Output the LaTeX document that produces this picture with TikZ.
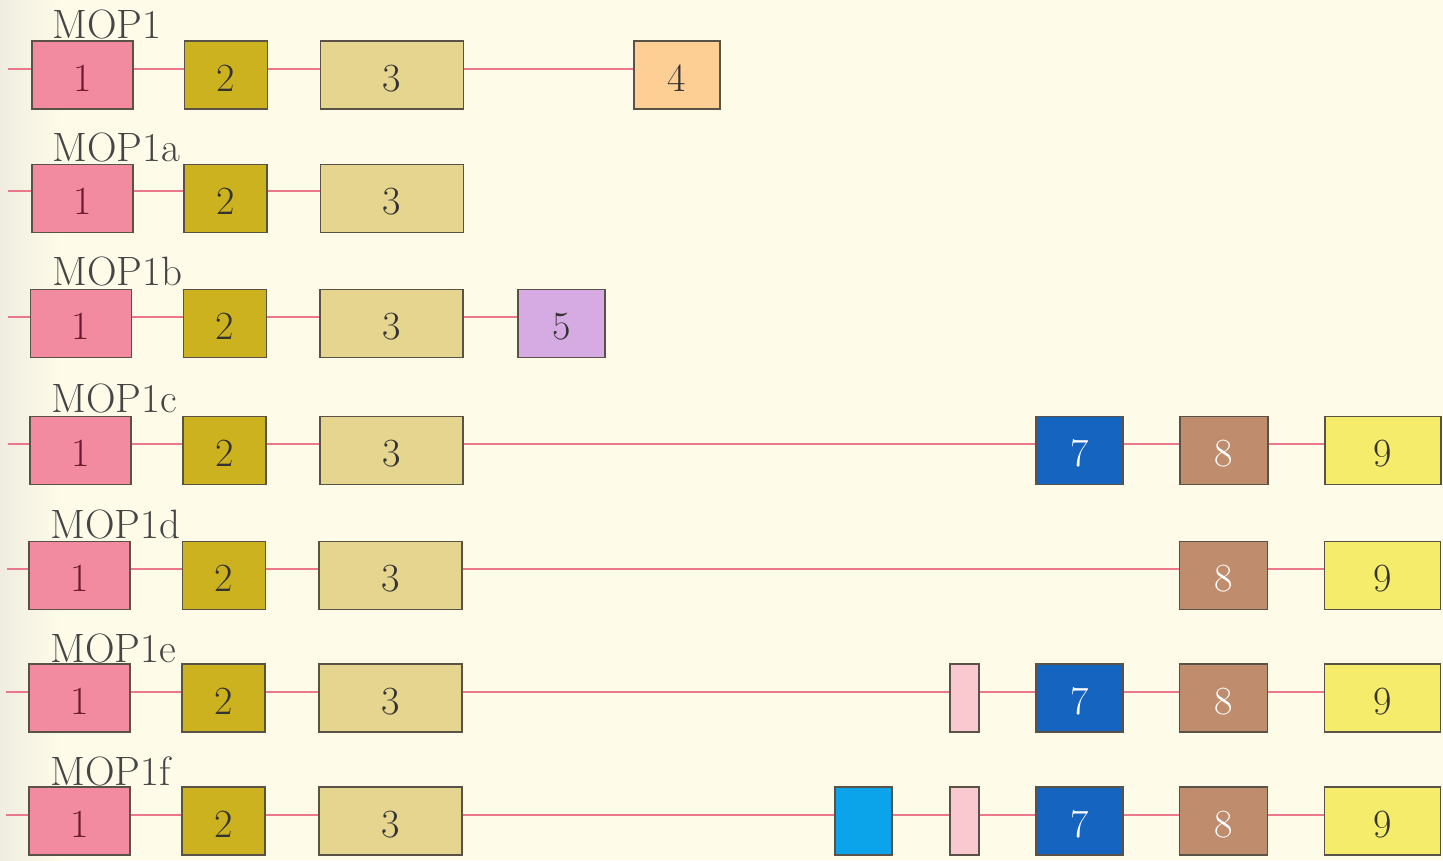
\documentclass[tikz,border=0pt]{standalone}
\usepackage{tikz}
\definecolor{bgc}{HTML}{FEFBE8}
\definecolor{bgl}{HTML}{EFEDE0}
\definecolor{cA}{HTML}{F28BA0}
\definecolor{cB}{HTML}{CDB220}
\definecolor{cC}{HTML}{E5D58F}
\definecolor{cD}{HTML}{FDCF95}
\definecolor{cE}{HTML}{D6AAE2}
\definecolor{cG}{HTML}{1464C0}
\definecolor{cH}{HTML}{BF8D6E}
\definecolor{cI}{HTML}{F5EC6C}
\definecolor{cyanx}{HTML}{0BA3EA}
\definecolor{spink}{HTML}{F9C9CF}
\definecolor{intronc}{HTML}{E9788A}
\definecolor{edgec}{HTML}{5A5246}
\definecolor{labc}{HTML}{454545}
\definecolor{onec}{HTML}{6A1A30}
\begin{document}
\begin{tikzpicture}[x=1pt,y=-1pt,
  ex/.style={draw=edgec, line width=1.4pt, inner sep=0pt, minimum height=68pt,
    text height=40pt, text depth=8pt,
    font=\fontsize{40}{40}\selectfont, text=black!80},
  e1/.style={ex, fill=cA, minimum width=101pt, text=onec},
  e2/.style={ex, fill=cB, minimum width=83pt},
  e3/.style={ex, fill=cC, minimum width=143pt},
  e4/.style={ex, fill=cD, minimum width=86pt},
  e5/.style={ex, fill=cE, minimum width=87pt},
  e7/.style={ex, fill=cG, minimum width=87pt, text=white},
  e8/.style={ex, fill=cH, minimum width=88pt, text=white},
  e9/.style={ex, fill=cI, minimum width=116pt},
  ecy/.style={ex, fill=cyanx, minimum width=57pt},
  esp/.style={ex, fill=spink, minimum width=29pt},
  intron/.style={draw=intronc, line width=1.2pt},
  lab/.style={anchor=base west, inner sep=0pt, text=labc, font=\fontsize{41}{41}\selectfont}]
\useasboundingbox (0,0) rectangle (1443,860);
\fill[bgc] (0,0) rectangle (1443,860);
\shade[left color=bgl, right color=bgc] (0,0) rectangle (60,860);

% line coordinates
\coordinate (s1) at (8,69);
\coordinate (s2) at (8,191);
\coordinate (s3) at (8,317);
\coordinate (s4) at (8,444);
\coordinate (s5) at (7,569);
\coordinate (s6) at (6,692);
\coordinate (s7) at (6,815);

% Row 1: MOP1
\node[e1] (a1) at (82.5,75) {1};
\node[e2] (b1) at (226,75) {2};
\node[e3] (c1) at (392,75) {3};
\node[e4] (d1) at (677,75) {4};
\node[lab] (l1) at (52,38) {MOP1};

% Row 2: MOP1a
\node[e1] (a2) at (82.5,198.5) {1};
\node[e2] (b2) at (225.5,198.5) {2};
\node[e3] (c2) at (392,198.5) {3};
\node[lab] (l2) at (52,161) {MOP1a};

% Row 3: MOP1b
\node[e1] (a3) at (81,323.5) {1};
\node[e2] (b3) at (225,323.5) {2};
\node[e3] (c3) at (391.5,323.5) {3};
\node[e5] (d3) at (561.5,323.5) {5};
\node[lab] (l3) at (52,285) {MOP1b};

% Row 4: MOP1c
\node[e1] (a4) at (80.5,450.5) {1};
\node[e2] (b4) at (224.5,450.5) {2};
\node[e3] (c4) at (391.5,450.5) {3};
\node[e7] (g4) at (1079.5,450.5) {7};
\node[e8] (h4) at (1224,450.5) {8};
\node[e9] (i4) at (1383,450.5) {9};
\node[lab] (l4) at (51,412) {MOP1c};

% Row 5: MOP1d
\node[e1] (a5) at (79.5,575.5) {1};
\node[e2] (b5) at (224,575.5) {2};
\node[e3] (c5) at (390.5,575.5) {3};
\node[e8] (h5) at (1223.5,575.5) {8};
\node[e9] (i5) at (1382.5,575.5) {9};
\node[lab] (l5) at (50,538) {MOP1d};

% Row 6: MOP1e
\node[e1] (a6) at (79.5,698) {1};
\node[e2] (b6) at (223.5,698) {2};
\node[e3] (c6) at (390.5,698) {3};
\node[esp] (p6) at (964.5,698) {};
\node[e7] (g6) at (1079.5,698) {7};
\node[e8] (h6) at (1223.5,698) {8};
\node[e9] (i6) at (1382.5,698) {9};
\node[lab] (l6) at (50,662) {MOP1e};

% Row 7: MOP1f
\node[e1] (a7) at (79.5,821) {1};
\node[e2] (b7) at (223.5,821) {2};
\node[e3] (c7) at (390.5,821) {3};
\node[ecy] (q7) at (863.5,821) {};
\node[esp] (p7) at (964.5,821) {};
\node[e7] (g7) at (1079.5,821) {7};
\node[e8] (h7) at (1223.5,821) {8};
\node[e9] (i7) at (1382.5,821) {9};
\node[lab] (l7) at (50,785) {MOP1f};

% introns
\draw[intron] (s1) -- (a1.west |- s1) (a1.east |- s1) -- (b1.west |- s1) (b1.east |- s1) -- (c1.west |- s1) (c1.east |- s1) -- (d1.west |- s1);
\draw[intron] (s2) -- (a2.west |- s2) (a2.east |- s2) -- (b2.west |- s2) (b2.east |- s2) -- (c2.west |- s2);
\draw[intron] (s3) -- (a3.west |- s3) (a3.east |- s3) -- (b3.west |- s3) (b3.east |- s3) -- (c3.west |- s3) (c3.east |- s3) -- (d3.west |- s3);
\draw[intron] (s4) -- (a4.west |- s4) (a4.east |- s4) -- (b4.west |- s4) (b4.east |- s4) -- (c4.west |- s4) (c4.east |- s4) -- (g4.west |- s4) (g4.east |- s4) -- (h4.west |- s4) (h4.east |- s4) -- (i4.west |- s4);
\draw[intron] (s5) -- (a5.west |- s5) (a5.east |- s5) -- (b5.west |- s5) (b5.east |- s5) -- (c5.west |- s5) (c5.east |- s5) -- (h5.west |- s5) (h5.east |- s5) -- (i5.west |- s5);
\draw[intron] (s6) -- (a6.west |- s6) (a6.east |- s6) -- (b6.west |- s6) (b6.east |- s6) -- (c6.west |- s6) (c6.east |- s6) -- (p6.west |- s6) (p6.east |- s6) -- (g6.west |- s6) (g6.east |- s6) -- (h6.west |- s6) (h6.east |- s6) -- (i6.west |- s6);
\draw[intron] (s7) -- (a7.west |- s7) (a7.east |- s7) -- (b7.west |- s7) (b7.east |- s7) -- (c7.west |- s7) (c7.east |- s7) -- (q7.west |- s7) (q7.east |- s7) -- (p7.west |- s7) (p7.east |- s7) -- (g7.west |- s7) (g7.east |- s7) -- (h7.west |- s7) (h7.east |- s7) -- (i7.west |- s7);
\end{tikzpicture}
\end{document}
